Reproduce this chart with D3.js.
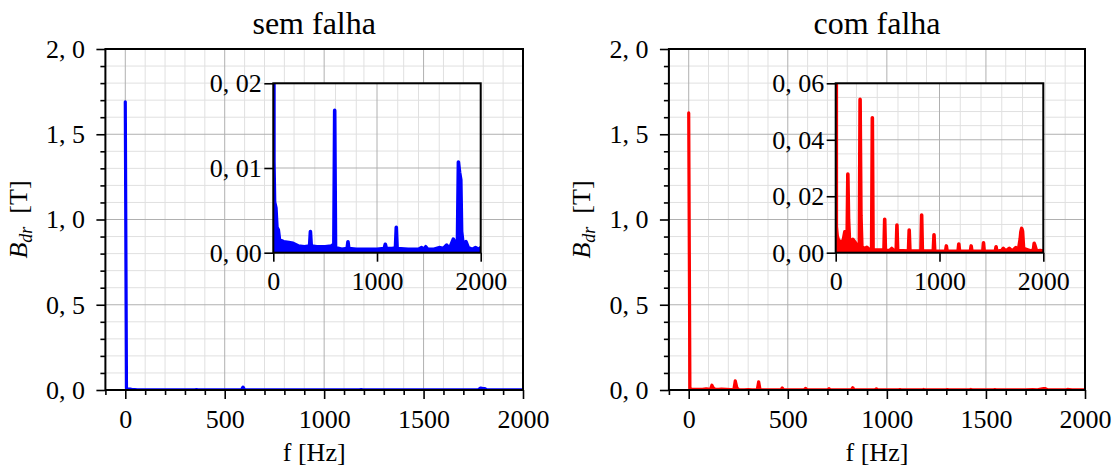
<!DOCTYPE html>
<html lang="pt">
<head>
<meta charset="UTF-8">
<title>B_dr - sem falha / com falha</title>
<script src="https://cdn.jsdelivr.net/npm/d3@7"></script>
<style>
  body { margin: 0; background: #fff; }
  svg { display: block; font-family: "Liberation Serif", "DejaVu Serif", serif; }
</style>
</head>
<body>
<svg id="chart" width="1118" height="471"></svg>
<script>
// spectrum (Hz, Tesla)
const semFalhaHz = [
  0, 6, 12, 25, 35, 48, 60, 100, 150, 190,
  240, 300, 350, 358, 366, 420, 500, 560, 584, 592,
  600, 660, 712, 720, 728, 800, 900, 1000, 1070, 1080,
  1090, 1150, 1178, 1186, 1194, 1300, 1400, 1430, 1450, 1470,
  1490, 1550, 1600, 1640, 1672, 1700, 1736, 1760, 1776, 1785,
  1796, 1808, 1816, 1830, 1858, 1880, 1920, 1950, 1980, 2000
];
const semFalhaB = [
  1.69, 0.0107, 0.0060, 0.0053, 0.0030, 0.0027, 0.0015, 0.0013, 0.0012, 0.0011,
  0.0008, 0.0007, 0.0008, 0.0025, 0.0008, 0.0007, 0.0007, 0.0008, 0.0010, 0.0168,
  0.0006, 0.0004, 0.0005, 0.0013, 0.0005, 0.0004, 0.0004, 0.0004, 0.0005, 0.0010,
  0.0005, 0.0005, 0.0006, 0.0030, 0.0005, 0.0004, 0.0004, 0.0006, 0.0004, 0.0007,
  0.0004, 0.0004, 0.0006, 0.0005, 0.0009, 0.0005, 0.0016, 0.0010, 0.0014, 0.0107,
  0.0095, 0.0086, 0.0025, 0.0010, 0.0013, 0.0006, 0.0004, 0.0006, 0.0004, 0.0006
];
const comFalhaHz = [
  0, 6, 14, 30, 50, 70, 88, 100, 110, 117,
  124, 132, 150, 165, 190, 210, 228, 235, 243, 252,
  280, 300, 320, 346, 353, 360, 390, 430, 465, 472,
  479, 520, 540, 560, 583, 590, 597, 650, 701, 708,
  715, 770, 821, 828, 835, 890, 940, 947, 954, 1010,
  1059, 1066, 1073, 1130, 1179, 1186, 1193, 1250, 1298, 1305,
  1312, 1370, 1417, 1424, 1431, 1480, 1538, 1545, 1552, 1600,
  1615, 1640, 1672, 1700, 1736, 1760, 1778, 1784, 1792, 1800,
  1810, 1850, 1880, 1905, 1912, 1920, 1935, 1970, 2000
];
const comFalhaB = [
  1.625, 0.0092, 0.0060, 0.0039, 0.0040, 0.0038, 0.0074, 0.0050, 0.0045, 0.0279,
  0.0116, 0.0050, 0.0042, 0.0047, 0.0035, 0.0020, 0.0025, 0.0543, 0.0133, 0.0020,
  0.0015, 0.0019, 0.0012, 0.0012, 0.0478, 0.0010, 0.0009, 0.0009, 0.0009, 0.0118,
  0.0008, 0.0008, 0.0015, 0.0008, 0.0008, 0.0098, 0.0007, 0.0007, 0.0006, 0.0080,
  0.0006, 0.0006, 0.0006, 0.0133, 0.0006, 0.0006, 0.0006, 0.0063, 0.0006, 0.0005,
  0.0005, 0.0024, 0.0005, 0.0005, 0.0005, 0.0031, 0.0005, 0.0005, 0.0005, 0.0024,
  0.0005, 0.0005, 0.0005, 0.0035, 0.0005, 0.0005, 0.0005, 0.0021, 0.0005, 0.0008,
  0.0015, 0.0006, 0.0015, 0.0006, 0.0018, 0.0008, 0.0050, 0.0074, 0.0086, 0.0076,
  0.0015, 0.0010, 0.0006, 0.0010, 0.0033, 0.0025, 0.0006, 0.0008, 0.0006
];

const mainXTicks = [0, 500, 1000, 1500, 2000];
const mainYTicks = [0, 0.5, 1.0, 1.5, 2.0];
const mainYLabels = ["0, 0", "0, 5", "1, 0", "1, 5", "2, 0"];
const insetXTicks = [0, 1000, 2000];
const semInsetYTicks = [0, 0.01, 0.02];
const semInsetYLabels = ["0, 00", "0, 01", "0, 02"];
const comInsetYTicks = [0, 0.02, 0.04, 0.06];
const comInsetYLabels = ["0, 00", "0, 02", "0, 04", "0, 06"];

const svg = d3.select("#chart");
const plotTop = 49, plotBottom = 390;
const inTop = 83.3, inBottom = 252.7;

const panels = [
  { id: "sem", title: "sem falha", hz: semFalhaHz, b: semFalhaB, color: "#0000ff",
    x0: 105.4, x1: 523, ix0: 273.3, ix1: 480.7,
    iyMax: 0.02, iyTicks: semInsetYTicks, iyLabels: semInsetYLabels, iyMinor: 0.002 },
  { id: "com", title: "com falha", hz: comFalhaHz, b: comFalhaB, color: "#ff0000",
    x0: 668.9, x1: 1085, ix0: 835.7, ix1: 1043.3,
    iyMax: 0.06, iyTicks: comInsetYTicks, iyLabels: comInsetYLabels, iyMinor: 0.005 }
];

function gridLines(g, x, y, xs, ys, color) {
  const [xa, xb] = x.range(), [ya, yb] = y.range();
  g.append("g").selectAll("line").data(xs).enter().append("line")
    .attr("x1", d => x(d)).attr("x2", d => x(d))
    .attr("y1", ya).attr("y2", yb)
    .attr("stroke", color).attr("stroke-width", 1);
  g.append("g").selectAll("line").data(ys).enter().append("line")
    .attr("x1", xa).attr("x2", xb)
    .attr("y1", d => y(d)).attr("y2", d => y(d))
    .attr("stroke", color).attr("stroke-width", 1);
}

function styleAxis(ax) {
  ax.attr("font-family", null).attr("font-size", 26);
  ax.select(".domain").remove();
  ax.selectAll(".tick line").attr("stroke", "#000").attr("stroke-width", 1.6);
  ax.selectAll(".tick text").attr("fill", "#000");
}

function drawSeries(g, x, y, p, clipId, width) {
  const pts = p.hz.map((f, i) => [f, p.b[i]]);
  const s = g.append("g").attr("clip-path", `url(#${clipId})`);
  s.append("path").datum(pts)
    .attr("d", d3.area().x(d => x(d[0])).y0(y(0)).y1(d => y(d[1])))
    .attr("fill", p.color);
  s.append("path").datum(pts)
    .attr("d", d3.line().x(d => x(d[0])).y(d => y(d[1])))
    .attr("fill", "none").attr("stroke", p.color)
    .attr("stroke-width", width).attr("stroke-linejoin", "round").attr("stroke-linecap", "round");
}

const defs = svg.append("defs");

panels.forEach(p => {
  const x = d3.scaleLinear().domain([-100, 2000]).range([p.x0, p.x1]);
  const y = d3.scaleLinear().domain([0, 2]).range([plotBottom, plotTop]);
  const g = svg.append("g");

  defs.append("clipPath").attr("id", "clip-" + p.id).append("rect")
    .attr("x", p.x0).attr("y", plotTop).attr("width", p.x1 - p.x0).attr("height", plotBottom - plotTop);

  // main grid
  gridLines(g, x, y,
    d3.range(-100, 2001, 100).filter(v => v % 500 !== 0),
    d3.range(1, 20).filter(v => v % 5 !== 0).map(v => v / 10), "#e0e0e0");
  gridLines(g, x, y, mainXTicks, mainYTicks, "#b0b0b0");

  drawSeries(g, x, y, p, "clip-" + p.id, 3.2);

  g.append("rect").attr("x", p.x0).attr("y", plotTop)
    .attr("width", p.x1 - p.x0).attr("height", plotBottom - plotTop)
    .attr("fill", "none").attr("stroke", "#000").attr("stroke-width", 2);

  // main axes
  const xMinor = g.append("g").attr("transform", `translate(0,${plotBottom})`)
    .call(d3.axisBottom(x).tickValues(d3.range(-100, 2001, 100).filter(v => v % 500 !== 0)).tickSize(5).tickFormat(""));
  styleAxis(xMinor);
  const xAx = g.append("g").attr("transform", `translate(0,${plotBottom})`)
    .call(d3.axisBottom(x).tickValues(mainXTicks).tickSize(9).tickPadding(10.5).tickFormat(d3.format("d")));
  styleAxis(xAx);
  const yMinor = g.append("g").attr("transform", `translate(${p.x0},0)`)
    .call(d3.axisLeft(y).tickValues(d3.range(1, 20).filter(v => v % 5 !== 0).map(v => v / 10)).tickSize(5).tickFormat(""));
  styleAxis(yMinor);
  const yAx = g.append("g").attr("transform", `translate(${p.x0},0)`)
    .call(d3.axisLeft(y).tickValues(mainYTicks).tickSize(9).tickPadding(11.5)
      .tickFormat((d, i) => mainYLabels[i]));
  styleAxis(yAx);

  // titles and labels
  const cx = (p.x0 + p.x1) / 2;
  g.append("text").attr("x", cx).attr("y", 34).attr("text-anchor", "middle")
    .attr("font-size", 32).text(p.title);
  g.append("text").attr("x", cx).attr("y", 461).attr("text-anchor", "middle")
    .attr("font-size", 26).text("f [Hz]");
  const yl = g.append("text")
    .attr("transform", `translate(${p.x0 - 78.5},${(plotTop + plotBottom) / 2}) rotate(-90)`)
    .attr("text-anchor", "middle").attr("font-size", 26);
  yl.append("tspan").attr("font-style", "italic").text("B");
  yl.append("tspan").attr("font-style", "italic").attr("font-size", 18).attr("dy", 5).text("dr");
  yl.append("tspan").attr("dy", -5).text("\u00a0\u00a0[T]");

  // inset
  const xi = d3.scaleLinear().domain([0, 2000]).range([p.ix0, p.ix1]);
  const yi = d3.scaleLinear().domain([0, p.iyMax]).range([inBottom, inTop]);
  const gi = g.append("g");
  defs.append("clipPath").attr("id", "clipi-" + p.id).append("rect")
    .attr("x", p.ix0).attr("y", inTop).attr("width", p.ix1 - p.ix0).attr("height", inBottom - inTop);

  gi.append("rect").attr("x", p.ix0).attr("y", inTop)
    .attr("width", p.ix1 - p.ix0).attr("height", inBottom - inTop).attr("fill", "#fff");
  const nMinor = Math.round(p.iyMax / p.iyMinor);
  gridLines(gi, xi, yi,
    d3.range(200, 2000, 200).filter(v => v % 1000 !== 0),
    d3.range(1, nMinor).map(k => k * p.iyMinor).filter(v => !p.iyTicks.some(t => Math.abs(t - v) < 1e-9)),
    "#e0e0e0");
  gridLines(gi, xi, yi, insetXTicks, p.iyTicks, "#b0b0b0");

  drawSeries(gi, xi, yi, p, "clipi-" + p.id, 3.6);

  gi.append("rect").attr("x", p.ix0).attr("y", inTop)
    .attr("width", p.ix1 - p.ix0).attr("height", inBottom - inTop)
    .attr("fill", "none").attr("stroke", "#000").attr("stroke-width", 2);

  const xiAx = gi.append("g").attr("transform", `translate(0,${inBottom})`)
    .call(d3.axisBottom(xi).tickValues(insetXTicks).tickSize(9).tickPadding(10).tickFormat(d3.format("d")));
  styleAxis(xiAx);
  const yiAx = gi.append("g").attr("transform", `translate(${p.ix0},0)`)
    .call(d3.axisLeft(yi).tickValues(p.iyTicks).tickSize(9).tickPadding(2.5)
      .tickFormat((d, i) => p.iyLabels[i]));
  styleAxis(yiAx);
});
</script>
</body>
</html>
